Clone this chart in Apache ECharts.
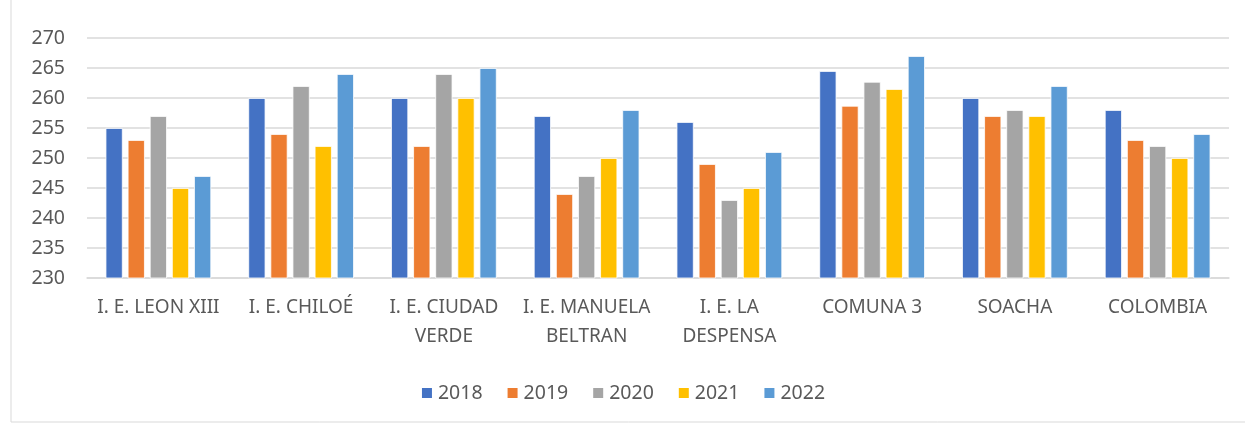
<!DOCTYPE html>
<html><head><meta charset="utf-8">
<script src="https://cdn.jsdelivr.net/npm/echarts@6/dist/echarts.min.js"></script>
<style>html,body{margin:0;padding:0;background:#fff}#c{width:1245px;height:424px}</style>
</head><body><div id="c"></div>
<script>
const categories = ["I. E. LEON XIII","I. E. CHILOÉ","I. E. CIUDAD\nVERDE","I. E. MANUELA\nBELTRAN","I. E. LA\nDESPENSA","COMUNA 3","SOACHA","COLOMBIA"];
const years = ["2018","2019","2020","2021","2022"];
const v2018 = [255,260,260,257,256,264.5,260,258];
const v2019 = [253,254,252,244,249,258.7,257,253];
const v2020 = [257,262,264,247,243,262.7,258,252];
const v2021 = [245,252,260,250,245,261.5,257,250];
const v2022 = [247,264,265,258,251,267,262,254];
const colors = ["#4472C4","#ED7D31","#A5A5A5","#FFC000","#5B9BD5"];
const yTicks = {min:230, max:270, interval:5};

const font = "'Noto Sans',sans-serif";
const allVals = [v2018,v2019,v2020,v2021,v2022];
const chart = echarts.init(document.getElementById('c'), null, {renderer:'canvas'});
chart.setOption({
  animation:false,
  graphic:[{type:'rect',shape:{x:11,y:-2,width:1260,height:424},style:{fill:'none',stroke:'#D9D9D9',lineWidth:1}}],
  grid:{left:87,right:16,top:38,bottom:146,containLabel:false},
  legend:{bottom:16,left:'center',itemWidth:12,itemHeight:12,itemGap:23,icon:'rect',
    textStyle:{color:'#595959',fontSize:19.5,fontFamily:font},data:years},
  xAxis:{type:'category',data:categories,
    axisLine:{lineStyle:{color:'#D9D9D9',width:1.5}},axisTick:{show:false},
    axisLabel:{color:'#595959',fontSize:19,fontFamily:font,margin:15,lineHeight:29,interval:0}},
  yAxis:{type:'value',min:yTicks.min,max:yTicks.max,interval:yTicks.interval,
    axisLine:{show:false},axisTick:{show:false},
    splitLine:{lineStyle:{color:'#D9D9D9',width:1.5}},
    axisLabel:{color:'#595959',fontSize:19.5,fontFamily:font,margin:22}},
  series: years.map((y,i)=>({name:y,type:'bar',data:allVals[i],barGap:'29%',barCategoryGap:'26%',
    itemStyle:{color:colors[i],borderColor:'#fff',borderWidth:0.8}}))
});
</script></body></html>
